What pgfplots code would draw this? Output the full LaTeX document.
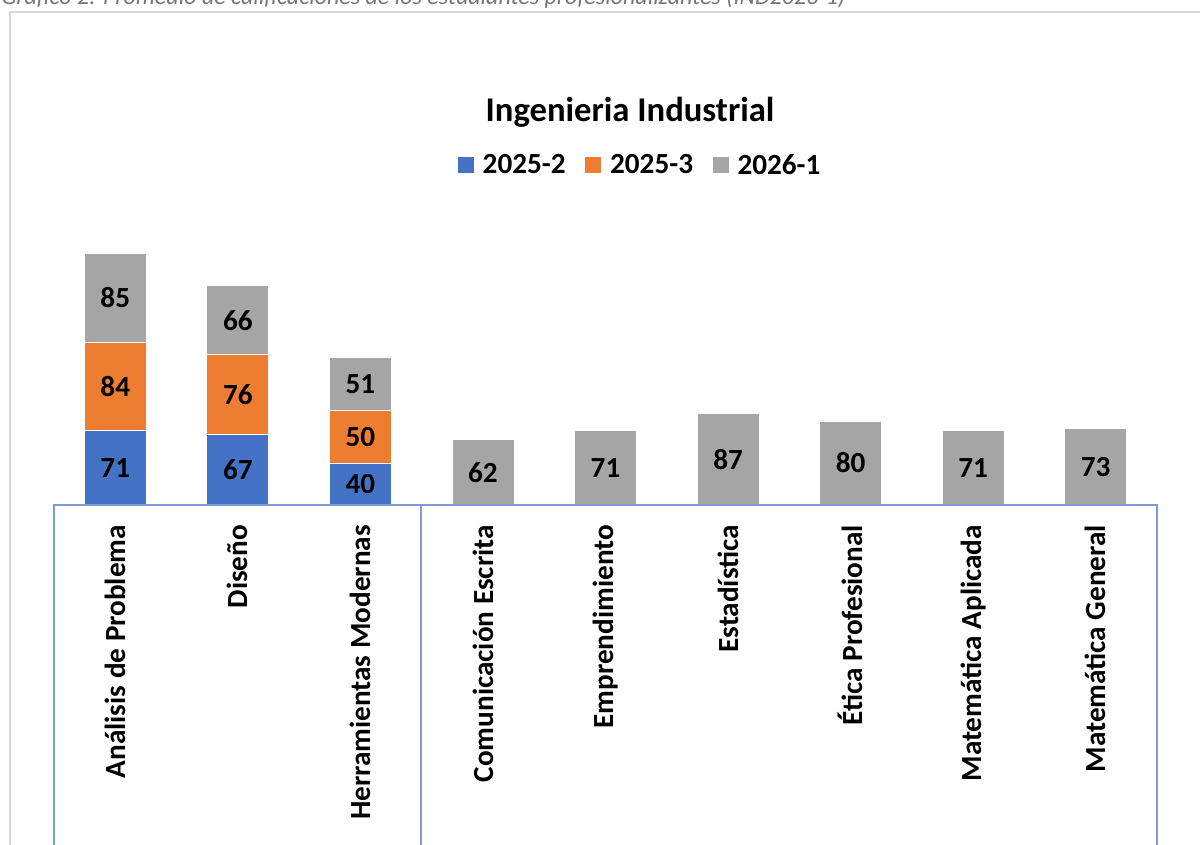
\documentclass[border=0pt]{standalone}
\usepackage{pgfplots}
\pgfplotsset{compat=1.18}
\usepackage{fontspec}
\setmainfont{Carlito}
\definecolor{cblue}{HTML}{4472C4}
\definecolor{corange}{HTML}{ED7D31}
\definecolor{cgray}{HTML}{A5A5A5}
\definecolor{axblue}{HTML}{7A9AD8}
\definecolor{bordergray}{HTML}{D9D9D9}
\definecolor{captiongray}{HTML}{767676}
\newcommand{\lblfont}{\fontsize{21.9}{24}\selectfont\bfseries}
\begin{document}
\begin{tikzpicture}
\useasboundingbox (0pt,0pt) rectangle (900pt,633.75pt);
\begin{axis}[
  at={(40.5pt,255pt)}, anchor=south west,
  scale only axis, width=827.25pt, height=196.875pt,
  xmin=-0.5, xmax=8.5, ymin=0, ymax=250,
  ybar stacked, bar width=0.506,
  axis line style={draw=none}, major tick length=0pt,
  ytick=\empty, xtick={0,...,8},
  xticklabels={Análisis de Problema,Diseño,Herramientas Modernas,Comunicación Escrita,Emprendimiento,Estadística,Ética Profesional,Matemática Aplicada,Matemática General},
  xticklabel style={rotate=90, anchor=east, font=\lblfont},
  xticklabel shift=11.5pt,
  clip=false,
  legend columns=3,
  legend image code/.code={\fill[#1] (0pt,-6.4pt) rectangle (12.75pt,6.4pt);},
  legend style={at={(0.5313,1.295)}, anchor=center, draw=none, fill=none, font=\lblfont,
    /tikz/every odd column/.append style={column sep=4pt},
    /tikz/every even column/.append style={column sep=12pt}},
]
\addplot[fill=cblue, draw=white, line width=0.6pt] coordinates {(0,71) (1,67) (2,40) (3,0) (4,0) (5,0) (6,0) (7,0) (8,0)};
\addplot[fill=corange, draw=white, line width=0.6pt] coordinates {(0,84) (1,76) (2,50) (3,0) (4,0) (5,0) (6,0) (7,0) (8,0)};
\addplot[fill=cgray, draw=white, line width=0.6pt] coordinates {(0,85) (1,66) (2,51) (3,62) (4,71) (5,87) (6,80) (7,71) (8,73)};
\legend{2025-2,2025-3,2026-1}
\end{axis}
\begin{axis}[
  at={(40.5pt,255pt)}, anchor=south west,
  scale only axis, width=827.25pt, height=196.875pt,
  xmin=-0.5, xmax=8.5, ymin=0, ymax=250,
  hide axis, clip=false,
]
\addplot[draw=none, mark=none, nodes near coords, point meta=explicit symbolic,
  nodes near coords style={anchor=center, font=\lblfont, text=black}]
  coordinates {(0,35.5) [71] (0,113) [84] (0,197.5) [85]
               (1,33.5) [67] (1,105) [76] (1,176) [66]
               (2,20) [40] (2,65) [50] (2,115.5) [51]
               (3,31) [62] (4,35.5) [71] (5,43.5) [87] (6,40) [80] (7,35.5) [71] (8,36.5) [73]};
\end{axis}
\begin{scope}[x=0.75pt,y=0.75pt]
\draw[bordergray, line width=1.1pt] (10,-5) -- (10,833) -- (1210,833);
\draw[axblue, line width=1.1pt] (54,-5) -- (54,340) -- (1157,340) -- (1157,-5);
\draw[axblue, line width=1.1pt] (421,340) -- (421,-5);
\node[font=\fontsize{26}{30}\selectfont\bfseries] at (630,733) {Ingenieria Industrial};
\node[anchor=base west, inner sep=0pt, font=\fontsize{18}{20}\selectfont\itshape, text=captiongray] at (1,840) {Gráfico 2: Promedio de calificaciones de los estudiantes profesionalizantes (IND2026-1)};
\end{scope}
\end{tikzpicture}
\end{document}
